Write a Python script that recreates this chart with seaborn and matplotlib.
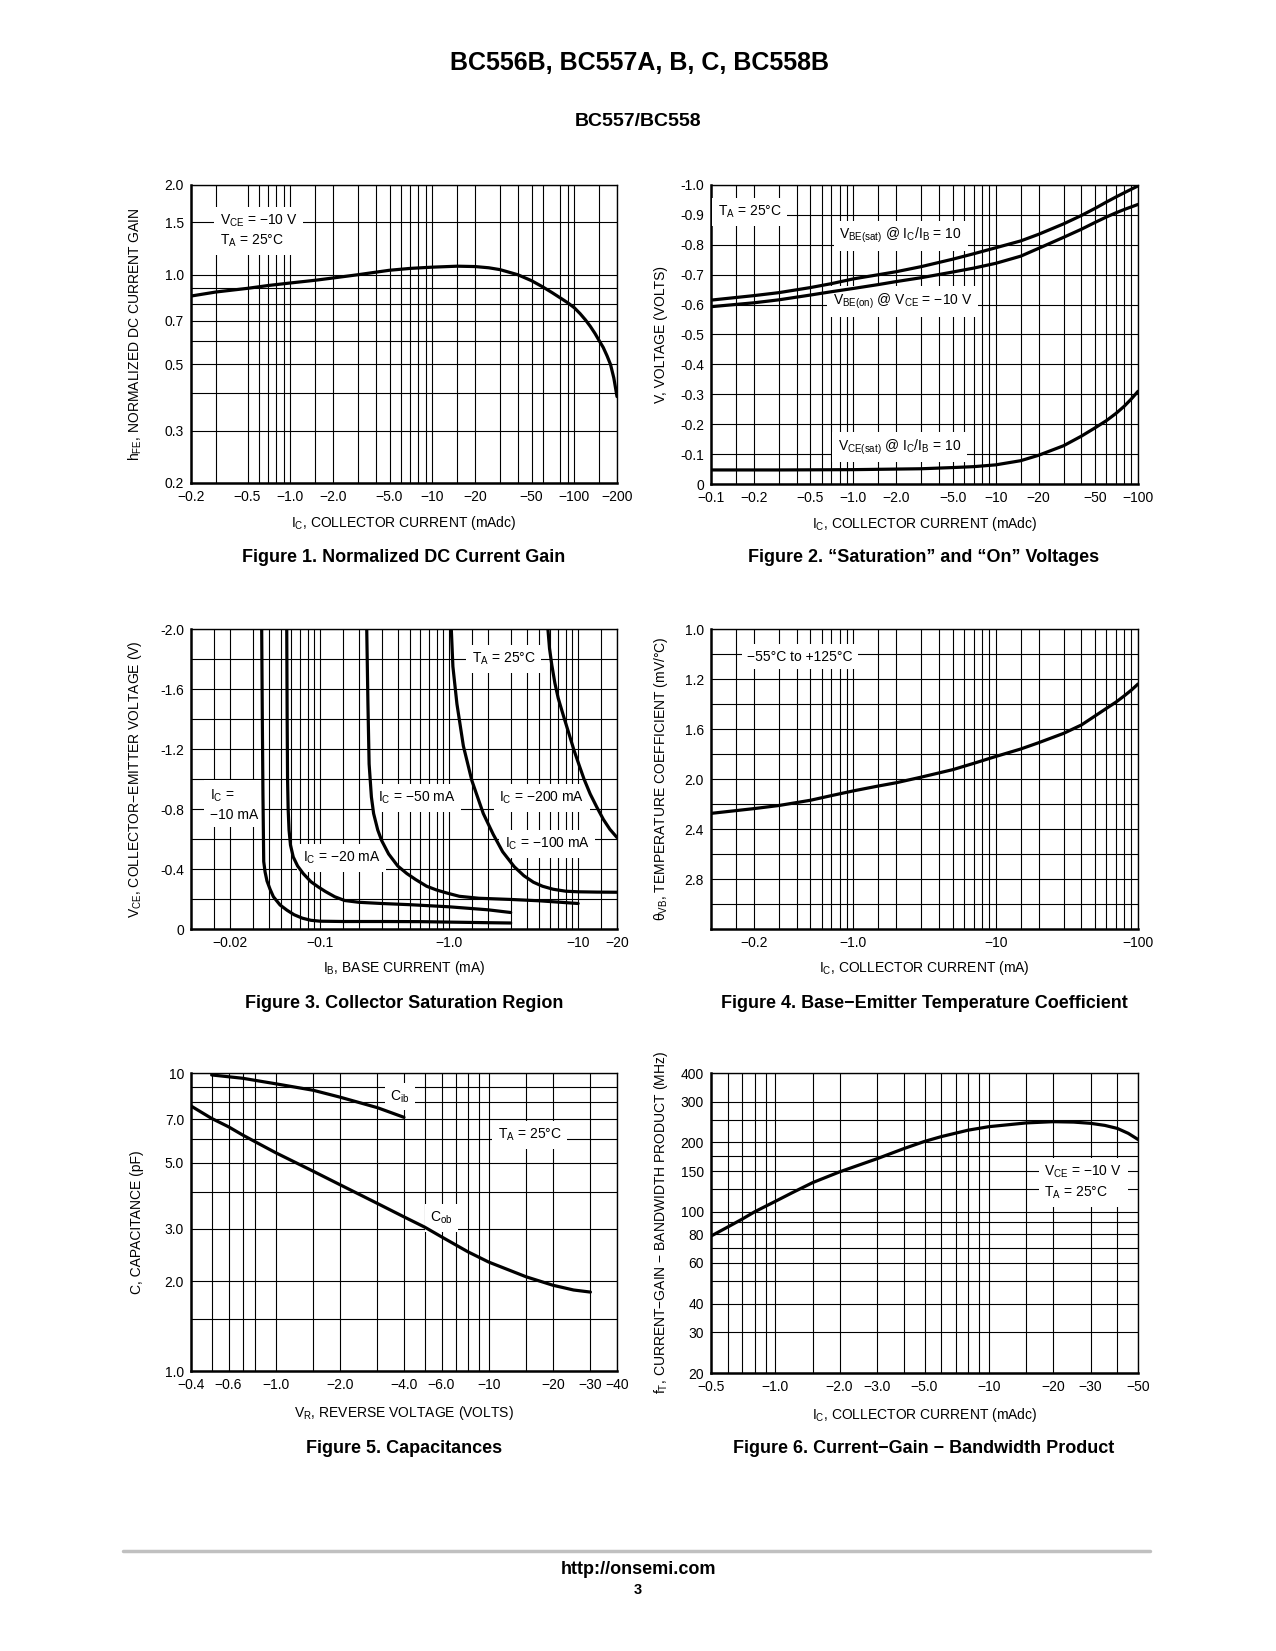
import matplotlib
matplotlib.use("Agg")
import matplotlib.pyplot as plt
from matplotlib.lines import Line2D
from matplotlib.ticker import FixedLocator, FixedFormatter, NullFormatter
import seaborn as sns

# ---------------- data ----------------
# Figure 1: normalized DC current gain vs |Ic| (mA)
f1_ic = [0.2, 0.3, 0.5, 0.7, 1.0, 1.5, 2.0, 3.0, 5.0, 7.0, 10, 15, 20, 25, 30, 40, 50, 60, 70, 80,
         90, 100, 110, 120, 130, 140, 150, 160, 170, 180, 190, 200]
f1_hfe = [0.848, 0.875, 0.90, 0.92, 0.938, 0.958, 0.975, 1.00, 1.035, 1.05, 1.06, 1.068, 1.065,
          1.055, 1.04, 1.00, 0.955, 0.91, 0.87, 0.835, 0.805, 0.775, 0.74, 0.705, 0.67, 0.635,
          0.60, 0.57, 0.535, 0.50, 0.45, 0.39]

# Figure 2: saturation / on voltages (magnitudes, V)
f2_ic = [0.1, 0.2, 0.3, 0.5, 0.7, 1.0, 1.5, 2.0, 3.0, 5.0, 7.0, 10, 15, 20, 30, 40, 50, 60, 70,
         80, 100]
f2_vbe_sat = [0.615, 0.63, 0.64, 0.657, 0.67, 0.686, 0.70, 0.71, 0.727, 0.752, 0.77, 0.79, 0.813,
              0.835, 0.87, 0.898, 0.922, 0.943, 0.96, 0.974, 0.997]
f2_vbe_on = [0.593, 0.606, 0.616, 0.632, 0.643, 0.654, 0.667, 0.677, 0.69, 0.709, 0.722, 0.738,
             0.762, 0.788, 0.825, 0.852, 0.875, 0.893, 0.907, 0.918, 0.935]
f2_ic_ce = [0.1, 0.3, 1.0, 3.0, 5.0, 7.0, 10, 15, 20, 30, 40, 50, 60, 70, 80, 90, 100]
f2_vce_sat = [0.047, 0.047, 0.048, 0.051, 0.055, 0.058, 0.064, 0.078, 0.096, 0.128, 0.16, 0.188,
              0.212, 0.236, 0.26, 0.285, 0.31]

# Figure 3: collector saturation region, |IB| (mA) vs |VCE| (V)
f3_ib_10 = [0.0353, 0.0357, 0.0361, 0.0366, 0.0375, 0.0388, 0.041, 0.0435, 0.049, 0.0555, 0.063,
            0.073, 0.085, 0.1, 0.15, 0.3, 0.6, 1.0, 2.0, 3.0]
f3_v_10 = [2.0, 1.4, 0.9, 0.45, 0.38, 0.32, 0.265, 0.215, 0.16, 0.125, 0.095, 0.072, 0.058, 0.052,
           0.05, 0.05, 0.049, 0.046, 0.042, 0.04]
f3_ib_20 = [0.0552, 0.0556, 0.056, 0.0566, 0.0575, 0.059, 0.062, 0.067, 0.074, 0.085, 0.097, 0.11,
            0.13, 0.155, 0.2, 0.3, 0.5, 1.0, 2.0, 3.0]
f3_v_20 = [2.0, 1.4, 1.0, 0.8, 0.66, 0.56, 0.48, 0.42, 0.37, 0.315, 0.28, 0.25, 0.215, 0.19, 0.178,
           0.17, 0.162, 0.148, 0.128, 0.11]
f3_ib_50 = [0.23, 0.235, 0.24, 0.25, 0.26, 0.28, 0.30, 0.34, 0.40, 0.47, 0.55, 0.67, 0.8, 0.96, 1.2,
            1.7, 3.0, 5.0, 10.0]
f3_v_50 = [2.0, 1.5, 1.1, 0.88, 0.77, 0.66, 0.59, 0.5, 0.42, 0.37, 0.33, 0.285, 0.26, 0.24, 0.218,
           0.205, 0.197, 0.188, 0.17]
f3_ib_100 = [1.04, 1.07, 1.15, 1.29, 1.5, 1.84, 2.2, 2.6, 3.2, 3.8, 4.5, 5.3, 6.4, 8.0, 10.0, 14, 20]
f3_v_100 = [2.0, 1.75, 1.5, 1.22, 0.99, 0.77, 0.63, 0.515, 0.415, 0.355, 0.312, 0.285, 0.265, 0.252,
            0.248, 0.246, 0.245]
f3_ib_200 = [5.83, 6.0, 6.25, 6.6, 7.0, 7.7, 8.5, 9.3, 10.2, 11.1, 12.4, 13.9, 15.7, 17.6, 20]
f3_v_200 = [2.0, 1.87, 1.76, 1.64, 1.54, 1.42, 1.30, 1.19, 1.09, 1.0, 0.9, 0.815, 0.73, 0.665, 0.61]

# Figure 4: base-emitter temperature coefficient
f4_ic = [0.1, 0.2, 0.3, 0.5, 0.7, 1.0, 1.5, 2.0, 3.0, 5.0, 7.0, 10, 15, 20, 30, 40, 50, 60, 70,
         80, 90, 100]
f4_tc = [2.275, 2.237, 2.212, 2.17, 2.133, 2.095, 2.056, 2.03, 1.985, 1.925, 1.875, 1.82, 1.76,
         1.71, 1.635, 1.568, 1.495, 1.435, 1.385, 1.335, 1.288, 1.24]

# Figure 5: capacitances vs |VR|
f5_vr_ib = [0.5, 0.7, 1.0, 1.5, 2.0, 3.0, 4.0]
f5_cib = [9.85, 9.6, 9.2, 8.75, 8.3, 7.65, 7.1]
f5_vr_ob = [0.4, 0.5, 0.6, 0.7, 0.8, 1.0, 1.5, 2.0, 3.0, 4.0, 5.0, 6.0, 8.0, 10, 15, 20, 25, 30]
f5_cob = [7.75, 7.04, 6.6, 6.19, 5.88, 5.4, 4.68, 4.22, 3.65, 3.29, 3.04, 2.82, 2.51, 2.32, 2.07,
          1.94, 1.87, 1.84]

# Figure 6: current-gain bandwidth product
f6_ic = [0.5, 0.6, 0.7, 0.8, 1.0, 1.2, 1.5, 2.0, 3.0, 4.0, 5.0, 6.0, 8.0, 10, 15, 20, 25, 30, 35,
         40, 45, 50]
f6_ft = [78.5, 86, 93, 100, 111, 121, 134, 149, 170, 188, 202, 212, 226, 234, 243, 246, 245, 242,
         237, 230, 219, 206]

# tick labels and grid values
f1_xticks = [0.2, 0.5, 1.0, 2.0, 5.0, 10, 20, 50, 100, 200]
f1_xlabels = ["−0.2", "−0.5", "−1.0", "−2.0", "−5.0", "−10", "−20", "−50", "−100", "−200"]
f1_xgrid = [0.3, 0.5, 0.6, 0.7, 0.8, 0.9, 1.0, 1.5, 2, 3, 4, 5, 6, 7, 8, 9, 10, 15, 20, 30, 40,
            50, 60, 80, 90, 100, 150]
f1_yticks = [0.2, 0.3, 0.5, 0.7, 1.0, 1.5, 2.0]
f1_ylabels = ["0.2", "0.3", "0.5", "0.7", "1.0", "1.5", "2.0"]
f1_ygrid = [0.3, 0.4, 0.5, 0.6, 0.7, 0.8, 0.9, 1.0, 1.5]

dec_grid = [0.15, 0.2, 0.3, 0.4, 0.5, 0.6, 0.7, 0.8, 0.9, 1.0, 1.5, 2, 3, 4, 5, 6, 7, 8, 9, 10,
            15, 20, 30, 40, 50, 60, 70, 80, 90]
f2_xticks = [0.1, 0.2, 0.5, 1.0, 2.0, 5.0, 10, 20, 50, 100]
f2_xlabels = ["−0.1", "−0.2", "−0.5", "−1.0", "−2.0", "−5.0", "−10", "−20", "−50", "−100"]
f2_yticks = [0, 0.1, 0.2, 0.3, 0.4, 0.5, 0.6, 0.7, 0.8, 0.9, 1.0]
f2_ylabels = ["0", "-0.1", "-0.2", "-0.3", "-0.4", "-0.5", "-0.6", "-0.7", "-0.8", "-0.9", "-1.0"]

f3_xticks = [0.02, 0.1, 1.0, 10, 20]
f3_xlabels = ["−0.02", "−0.1", "−1.0", "−10", "−20"]
f3_xgrid = [0.015, 0.02, 0.03, 0.04, 0.05, 0.06, 0.07, 0.08, 0.09, 0.1, 0.15, 0.2, 0.3, 0.4, 0.5,
            0.6, 0.7, 0.8, 0.9, 1.0, 1.5, 2, 3, 4, 5, 6, 7, 8, 9, 10, 15]
f3_yticks = [0, 0.4, 0.8, 1.2, 1.6, 2.0]
f3_ylabels = ["0", "-0.4", "-0.8", "-1.2", "-1.6", "-2.0"]
f3_ygrid = [0.2, 0.4, 0.6, 0.8, 1.0, 1.2, 1.4, 1.6, 1.8]

f4_xticks = [0.2, 1.0, 10, 100]
f4_xlabels = ["−0.2", "−1.0", "−10", "−100"]
f4_yticks = [0.8, 1.2, 1.6, 2.0, 2.4, 2.8]
f4_ylabels = ["1.0", "1.2", "1.6", "2.0", "2.4", "2.8"]
f4_ygrid = [1.0, 1.2, 1.4, 1.6, 1.8, 2.0, 2.2, 2.4, 2.6, 2.8, 3.0]

f5_xticks = [0.4, 0.6, 1.0, 2.0, 4.0, 6.0, 10, 20, 30, 40]
f5_xlabels = ["−0.4", "−0.6", "−1.0", "−2.0", "−4.0", "−6.0", "−10", "−20", "−30", "−40"]
f5_xgrid = [0.5, 0.6, 0.7, 0.8, 1.0, 1.5, 2, 3, 4, 5, 6, 7, 8, 9, 10, 15, 20, 30]
f5_yticks = [1.0, 2.0, 3.0, 5.0, 7.0, 10]
f5_ylabels = ["1.0", "2.0", "3.0", "5.0", "7.0", "10"]
f5_ygrid = [1.5, 2, 3, 4, 5, 6, 7, 8, 9]

f6_xticks = [0.5, 1.0, 2.0, 3.0, 5.0, 10, 20, 30, 50]
f6_xlabels = ["−0.5", "−1.0", "−2.0", "−3.0", "−5.0", "−10", "−20", "−30", "−50"]
f6_xgrid = [0.6, 0.7, 0.8, 0.9, 1.0, 1.5, 2, 3, 4, 5, 6, 7, 8, 9, 10, 15, 20, 30, 40]
f6_yticks = [20, 30, 40, 60, 80, 100, 150, 200, 300, 400]
f6_ylabels = ["20", "30", "40", "60", "80", "100", "150", "200", "300", "400"]
f6_ygrid = [30, 40, 50, 60, 70, 80, 90, 100, 125, 150, 175, 200, 250, 300]

# ---------------- style ----------------
sns.set_theme(style="white")
plt.rcParams['font.family'] = ['DejaVu Sans Condensed', 'Liberation Sans Narrow', 'Liberation Sans',
                               'DejaVu Sans']
plt.rcParams.update({
    'font.size': 10,
    'font.stretch': 'condensed',
    'text.color': 'black',
    'axes.labelcolor': 'black',
    'xtick.color': 'black',
    'ytick.color': 'black',
    'axes.edgecolor': 'black',
})
BOLD = ['Liberation Sans', 'DejaVu Sans']
FS = 10

W, H = 1276, 1651
fig = plt.figure(figsize=(W / 100, H / 100), dpi=100)
fig.patch.set_facecolor('white')


def rect(x0, y0, x1, y1):
    return [x0 / W, 1 - y1 / H, (x1 - x0) / W, (y1 - y0) / H]


def make_axes(r, xlim, ylim, xticks, xlabels, xgrid, yticks, ylabels, ygrid, ylog=False):
    ax = fig.add_axes(r)
    ax.set_xscale('log')
    if ylog:
        ax.set_yscale('log')
    ax.set_xlim(xlim)
    ax.set_ylim(ylim)
    ax.xaxis.set_major_locator(FixedLocator(xticks))
    ax.xaxis.set_major_formatter(FixedFormatter(xlabels))
    ax.xaxis.set_minor_locator(FixedLocator(xgrid))
    ax.xaxis.set_minor_formatter(NullFormatter())
    ax.yaxis.set_major_locator(FixedLocator(yticks))
    ax.yaxis.set_major_formatter(FixedFormatter(ylabels))
    ax.yaxis.set_minor_locator(FixedLocator(ygrid))
    ax.yaxis.set_minor_formatter(NullFormatter())
    ax.grid(which='both', color='black', linewidth=0.8)
    ax.set_axisbelow(True)
    ax.tick_params(which='both', length=0, pad=5, labelsize=FS)
    for s in ['left', 'bottom']:
        ax.spines[s].set_linewidth(1.8)
    for s in ['top', 'right']:
        ax.spines[s].set_linewidth(1.0)
    return ax


def curve(ax, x, y):
    sns.lineplot(x=x, y=y, ax=ax, color='black', linewidth=2.3, sort=False,
                 estimator=None, zorder=5)


def note(ax, x, y, s, ha='left'):
    ax.text(x, y, s, ha=ha, va='center', fontsize=FS, zorder=4, linespacing=1.35,
            bbox=dict(boxstyle='square,pad=0.4', facecolor='white', edgecolor='none'))


def labels(ax, xl, yl, xy, yx):
    ax.set_xlabel(xl, fontsize=FS)
    ax.set_ylabel(yl, fontsize=FS)
    ax.xaxis.set_label_coords(0.5, xy)
    ax.yaxis.set_label_coords(yx, 0.5)


IC_MADC = "I$_\\mathregular{C}$, COLLECTOR CURRENT (mAdc)"

# ---- Figure 1 ----
ax1 = make_axes(rect(191, 185, 617, 483), (0.2, 200), (0.2, 2.0), f1_xticks, f1_xlabels,
                f1_xgrid, f1_yticks, f1_ylabels, f1_ygrid, ylog=True)
curve(ax1, f1_ic, f1_hfe)
note(ax1, 0.32, 1.405, "V$_\\mathregular{CE}$ = −10 V\nT$_\\mathregular{A}$ = 25°C")
labels(ax1, IC_MADC, "h$_\\mathregular{FE}$, NORMALIZED DC CURRENT GAIN", -0.105, -0.11)

# ---- Figure 2 ----
ax2 = make_axes(rect(711, 185, 1138, 484), (0.1, 100), (0, 1.0), f2_xticks, f2_xlabels,
                dec_grid, f2_yticks, f2_ylabels, f2_yticks)
curve(ax2, f2_ic, f2_vbe_sat)
curve(ax2, f2_ic, f2_vbe_on)
curve(ax2, f2_ic_ce, f2_vce_sat)
note(ax2, 0.112, 0.91, "T$_\\mathregular{A}$ = 25°C")
note(ax2, 0.795, 0.83, "V$_\\mathregular{BE(sat)}$ @ I$_\\mathregular{C}$/I$_\\mathregular{B}$ = 10")
note(ax2, 0.72, 0.61, "V$_\\mathregular{BE(on)}$ @ V$_\\mathregular{CE}$ = −10 V")
note(ax2, 0.78, 0.124, "V$_\\mathregular{CE(sat)}$ @ I$_\\mathregular{C}$/I$_\\mathregular{B}$ = 10")
labels(ax2, IC_MADC, "V, VOLTAGE (VOLTS)", -0.105, -0.10)

# ---- Figure 3 ----
ax3 = make_axes(rect(191, 629, 617, 929), (0.01, 20), (0, 2.0), f3_xticks, f3_xlabels,
                f3_xgrid, f3_yticks, f3_ylabels, f3_ygrid)
for xs, ys in [(f3_ib_10, f3_v_10), (f3_ib_20, f3_v_20), (f3_ib_50, f3_v_50),
               (f3_ib_100, f3_v_100), (f3_ib_200, f3_v_200)]:
    curve(ax3, xs, ys)
note(ax3, 0.014, 0.83, "I$_\\mathregular{C}$ =\n−10 mA")
note(ax3, 0.0737, 0.473, "I$_\\mathregular{C}$ = −20 mA")
note(ax3, 0.28, 0.873, "I$_\\mathregular{C}$ = −50 mA")
note(ax3, 1.5, 1.8, "T$_\\mathregular{A}$ = 25°C")
note(ax3, 2.44, 0.873, "I$_\\mathregular{C}$ = −200 mA")
note(ax3, 2.7, 0.567, "I$_\\mathregular{C}$ = −100 mA")
labels(ax3, "I$_\\mathregular{B}$, BASE CURRENT (mA)",
       "V$_\\mathregular{CE}$, COLLECTOR−EMITTER VOLTAGE (V)", -0.10, -0.11)

# ---- Figure 4 ----
ax4 = make_axes(rect(711, 629, 1138, 929), (0.1, 100), (3.2, 0.8), f4_xticks, f4_xlabels,
                dec_grid, f4_yticks, f4_ylabels, f4_ygrid)
curve(ax4, f4_ic, f4_tc)
note(ax4, 0.18, 1.02, "−55°C to +125°C")
labels(ax4, "I$_\\mathregular{C}$, COLLECTOR CURRENT (mA)",
       "θ$_\\mathregular{VB}$, TEMPERATURE COEFFICIENT (mV/°C)", -0.10, -0.096)

# ---- Figure 5 ----
ax5 = make_axes(rect(191, 1073, 617, 1371), (0.4, 40), (1.0, 10), f5_xticks, f5_xlabels,
                f5_xgrid, f5_yticks, f5_ylabels, f5_ygrid, ylog=True)
curve(ax5, f5_vr_ib, f5_cib)
curve(ax5, f5_vr_ob, f5_cob)
note(ax5, 3.83, 8.33, "C$_\\mathregular{ib}$", ha='center')
note(ax5, 11.0, 6.19, "T$_\\mathregular{A}$ = 25°C")
note(ax5, 6.0, 3.26, "C$_\\mathregular{ob}$", ha='center')
labels(ax5, "V$_\\mathregular{R}$, REVERSE VOLTAGE (VOLTS)", "C, CAPACITANCE (pF)", -0.11, -0.11)

# ---- Figure 6 ----
ax6 = make_axes(rect(711, 1073, 1138, 1373), (0.5, 50), (20, 400), f6_xticks, f6_xlabels,
                f6_xgrid, f6_yticks, f6_ylabels, f6_ygrid, ylog=True)
curve(ax6, f6_ic, f6_ft)
note(ax6, 18.2, 134, "V$_\\mathregular{CE}$ = −10 V\nT$_\\mathregular{A}$ = 25°C")
labels(ax6, IC_MADC, "f$_\\mathregular{T}$, CURRENT−GAIN − BANDWIDTH PRODUCT (MHz)", -0.11, -0.096)

# ---- page text ----
def ftext(x, y, s, size, weight='bold'):
    fig.text(x / W, 1 - y / H, s, ha='center', va='center', fontsize=size, weight=weight,
             family=BOLD, stretch='normal')

ftext(640, 63, "BC556B, BC557A, B, C, BC558B", 18)
ftext(638, 121, "BC557/BC558", 14)
ftext(404, 558, "Figure 1. Normalized DC Current Gain", 13)
ftext(924, 558, "Figure 2. “Saturation” and “On” Voltages", 13)
ftext(404, 1003, "Figure 3. Collector Saturation Region", 13)
ftext(924, 1003, "Figure 4. Base−Emitter Temperature Coefficient", 13)
ftext(404, 1448, "Figure 5. Capacitances", 13)
ftext(924, 1448, "Figure 6. Current−Gain − Bandwidth Product", 13)
fig.add_artist(Line2D([123 / W, 1150 / W], [1 - 1551 / H, 1 - 1551 / H], color='#c0c0c0',
                      linewidth=2.5))
ftext(638, 1569, "http://onsemi.com", 13)
ftext(638, 1590, "3", 10.5)

fig.savefig("out.png", dpi=100, facecolor='white')
